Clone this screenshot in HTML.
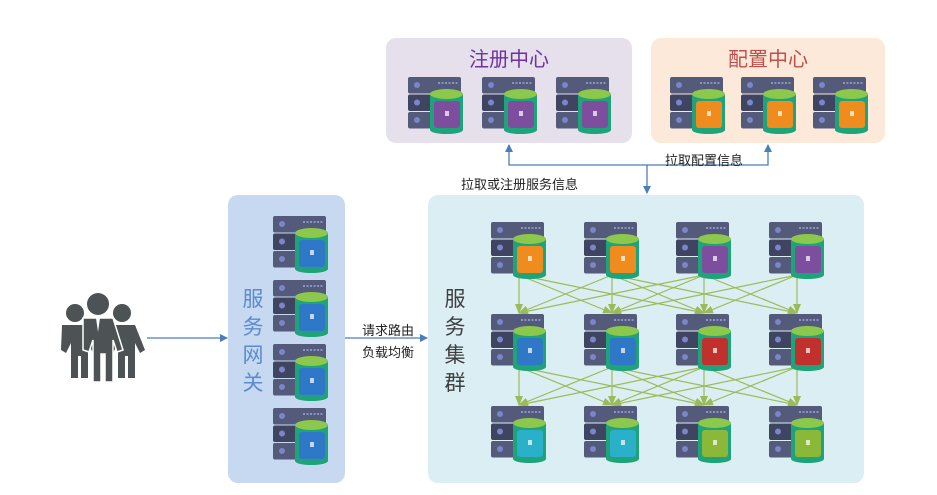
<!DOCTYPE html><html><head><meta charset="utf-8"><style>
body{margin:0;background:#fff;width:937px;height:490px;overflow:hidden;font-family:"Liberation Sans","Noto Sans CJK SC",sans-serif}
</style></head><body>
<svg id="s" width="937" height="490" xmlns="http://www.w3.org/2000/svg" font-family="Liberation Sans, Noto Sans CJK SC, sans-serif">
<defs><marker id="ab" markerWidth="8" markerHeight="8" refX="7" refY="4" orient="auto" markerUnits="userSpaceOnUse"><path d="M0,0 L8,4 L0,8z" fill="#4a7ebb"/></marker>
<marker id="ag" markerWidth="10" markerHeight="8" refX="9" refY="4" orient="auto" markerUnits="userSpaceOnUse"><path d="M0,0 L10,4 L0,8z" fill="#9bbb59"/></marker></defs>
<rect x="386" y="38" width="246" height="105" rx="10" fill="#e5e0ec"/>
<rect x="651" y="38" width="234" height="105" rx="10" fill="#fde9d9"/>
<rect x="228" y="195" width="117" height="288" rx="10" fill="#c6d9f1"/>
<rect x="428" y="195" width="436" height="288" rx="10" fill="#dbeef4"/>
<text x="509" y="66" font-size="20" text-anchor="middle" fill="#7030a0">注册中心</text>
<text x="768" y="66" font-size="20" text-anchor="middle" fill="#c0504d">配置中心</text>
<g font-size="21" fill="#5b8bd0" text-anchor="middle"><text x="253" y="306">服</text><text x="253" y="334">务</text><text x="253" y="362">网</text><text x="253" y="390">关</text></g>
<g font-size="21" fill="#404040" text-anchor="middle"><text x="455" y="306">服</text><text x="455" y="334">务</text><text x="455" y="362">集</text><text x="455" y="390">群</text></g>
<g stroke="#4a7ebb" stroke-width="1.3" fill="none">
<path d="M647,165 H509 V145" marker-end="url(#ab)"/><path d="M647,165 H768 V145" marker-end="url(#ab)"/>
<path d="M647,165 V193" marker-end="url(#ab)"/>
<path d="M147,338 H227" marker-end="url(#ab)"/><path d="M345,338 H427" marker-end="url(#ab)"/></g>
<text x="665" y="165" font-size="13" fill="#222">拉取配置信息</text>
<text x="461" y="189" font-size="13" fill="#222">拉取或注册服务信息</text>
<text x="362" y="335" font-size="13" fill="#222">请求路由</text>
<text x="362" y="357" font-size="13" fill="#222">负载均衡</text>
<g fill="#4d5254">
<circle cx="75" cy="313" r="9"/><circle cx="122" cy="313" r="9"/>
<path d="M62,325 h26 l10,25 l-5,3 l-5,-10 v35 h-7 v-22 h-3 v22 h-7 v-35 l-5,10 l-5,-3z"/>
<path d="M109,325 h26 l10,25 l-5,3 l-5,-10 v35 h-7 v-22 h-3 v22 h-7 v-35 l-5,10 l-5,-3z"/>
<circle cx="98" cy="304" r="11"/>
<path d="M83,318 h30 l10,32 l-6,2 l-4,-12 v42 h-8 v-28 h-4 v28 h-8 v-42 l-4,12 l-6,-2z" stroke="#fff" stroke-width="1.5"/>
<path d="M96,318 l2,14 l2,-14z" fill="#fff"/></g>
<g id="ar"></g><g id="sv"></g>
</svg>
<script>
var ns="http://www.w3.org/2000/svg",sv=document.getElementById('sv'),ar=document.getElementById('ar');
function el(p,t,a){var e=document.createElementNS(ns,t);for(var k in a)e.setAttribute(k,a[k]);p.appendChild(e);return e;}
var C={o:"#f08c1e",p:"#7d4e9e",b:"#2f78c8",r:"#c0302c",c:"#2ab0c8",l:"#8cb83a"};
function server(x,y,c){var g=el(sv,'g',{transform:'translate('+x+','+y+')'});
for(var i=0;i<3;i++){el(g,'rect',{x:0,y:i*17.5,width:53,height:16.5,rx:2,fill:i==1?'#3f4561':'#545a7a'});el(g,'circle',{cx:9,cy:i*17.5+8,r:3,fill:'#7b85c9'});}
for(var j=0;j<6;j++)el(g,'rect',{x:30+j*3.5,y:5,width:2,height:2,fill:'#8a92c8'});
el(g,'rect',{x:22,y:17,width:33,height:36,fill:'#1fa37a'});
el(g,'ellipse',{cx:38.5,cy:53,rx:16.5,ry:4,fill:'#1fa37a'});
el(g,'ellipse',{cx:38.5,cy:17,rx:16.5,ry:5,fill:'#8cc84b'});
el(g,'rect',{x:26,y:24,width:26,height:27,rx:3,fill:C[c]});
el(g,'rect',{x:37,y:34,width:4,height:5,fill:'#fff',opacity:.7});}
[408,482,556].forEach(function(x){server(x,77,'p')});
[670,741,813].forEach(function(x){server(x,77,'o')});
[216,280,344,408].forEach(function(y){server(273,y,'b')});
var X=[491,584,676,769],Y=[222,314,406],cols=[["o","o","p","p"],["b","b","r","r"],["c","c","l","l"]];
for(var r=0;r<2;r++)for(var a=0;a<4;a++)for(var b=0;b<4;b++){if(Math.abs(a-b)>2)continue;
el(ar,'line',{x1:X[a]+28,y1:Y[r]+53,x2:X[b]+28,y2:Y[r+1]-1,stroke:'#9bbb59','stroke-width':1.2,'marker-end':'url(#ag)'});}
for(var r=0;r<3;r++)for(var a=0;a<4;a++)server(X[a],Y[r],cols[r][a]);
</script>
</body></html>
